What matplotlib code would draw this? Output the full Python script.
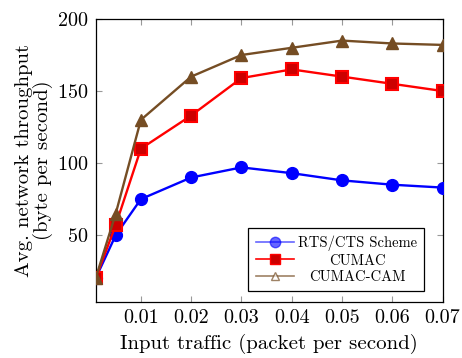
import matplotlib
matplotlib.use("Agg")
import matplotlib.pyplot as plt
from matplotlib.lines import Line2D

plt.rcParams['font.family'] = 'serif'
plt.rcParams['font.serif'] = ['cmr10', 'DejaVu Serif']
plt.rcParams['mathtext.fontset'] = 'cm'
plt.rcParams['axes.formatter.use_mathtext'] = True

# data
traffic = [0.001, 0.005, 0.01, 0.02, 0.03, 0.04, 0.05, 0.06, 0.07]
rts_cts = [20, 50, 75, 90, 97, 93, 88, 85, 83]
cumac = [20, 57, 110, 133, 159, 165, 160, 155, 150]
cumac_cam = [20, 65, 130, 160, 175, 180, 185, 183, 182]
x_ticks = [0.01, 0.02, 0.03, 0.04, 0.05, 0.06, 0.07]
y_ticks = [50, 100, 150, 200]
labels = ['RTS/CTS Scheme', 'CUMAC', 'CUMAC-CAM']

blue = (0, 0, 1)
red = (1, 0, 0)
dark_red = (0.8, 0, 0)
brown = (0.46, 0.30, 0.14)

fig = plt.figure(figsize=(4.62, 3.58), dpi=100)
ax = fig.add_axes([0.207, 0.156, 0.751, 0.791])

ax.plot(traffic, rts_cts, color=blue, lw=1.7, marker='o', ms=8.5,
        mfc=blue, mec=blue, zorder=3)
ax.plot(traffic, cumac, color=red, lw=1.7, marker='s', ms=8.5,
        mfc=dark_red, mec=red, mew=1.5, zorder=3)
ax.plot(traffic, cumac_cam, color=brown, lw=1.7, marker='^', ms=8.5,
        mfc=brown, mec=brown, zorder=4)

ax.set_xlim(0.001, 0.07)
ax.set_ylim(3.5, 200)
ax.set_xticks(x_ticks)
ax.set_xticklabels(['%.2f' % v for v in x_ticks])
ax.set_yticks(y_ticks)
ax.tick_params(direction='in', top=True, right=True, length=4,
               color='#999999', labelsize=14.5, pad=5)
for s in ax.spines.values():
    s.set_linewidth(0.9)

ax.set_xlabel('Input traffic (packet per second)', fontsize=15, labelpad=5)
ax.set_ylabel('Avg. network throughput\n(byte per second)', fontsize=15,
              labelpad=3, linespacing=1.0)

handles = [
    Line2D([], [], color=blue, alpha=0.6, lw=1.2, marker='o', ms=7.5,
           mfc=blue, mec=blue),
    Line2D([], [], color=red, lw=1.2, marker='s', ms=7.5,
           mfc=dark_red, mec=red),
    Line2D([], [], color=brown, alpha=0.7, lw=1.2, marker='^', ms=6,
           mfc='white', mec=brown),
]
leg = ax.legend(handles, labels, loc='lower right',
                bbox_to_anchor=(0.968, 0.012), fontsize=10.5,
                fancybox=False, framealpha=1, edgecolor='black',
                handlelength=2.6, handletextpad=0.3, borderpad=0.5,
                labelspacing=0.2)
leg.get_frame().set_linewidth(0.9)

# center the shorter labels in the text column, like pgfplots does
fig.canvas.draw()
r = fig.canvas.get_renderer()
widths = [t.get_window_extent(r).width for t in leg.get_texts()]
wmax = max(widths)
for t, w in zip(leg.get_texts(), widths):
    t.set_position(((wmax - w) / 2, 0))

fig.savefig('out.png', dpi=100)
